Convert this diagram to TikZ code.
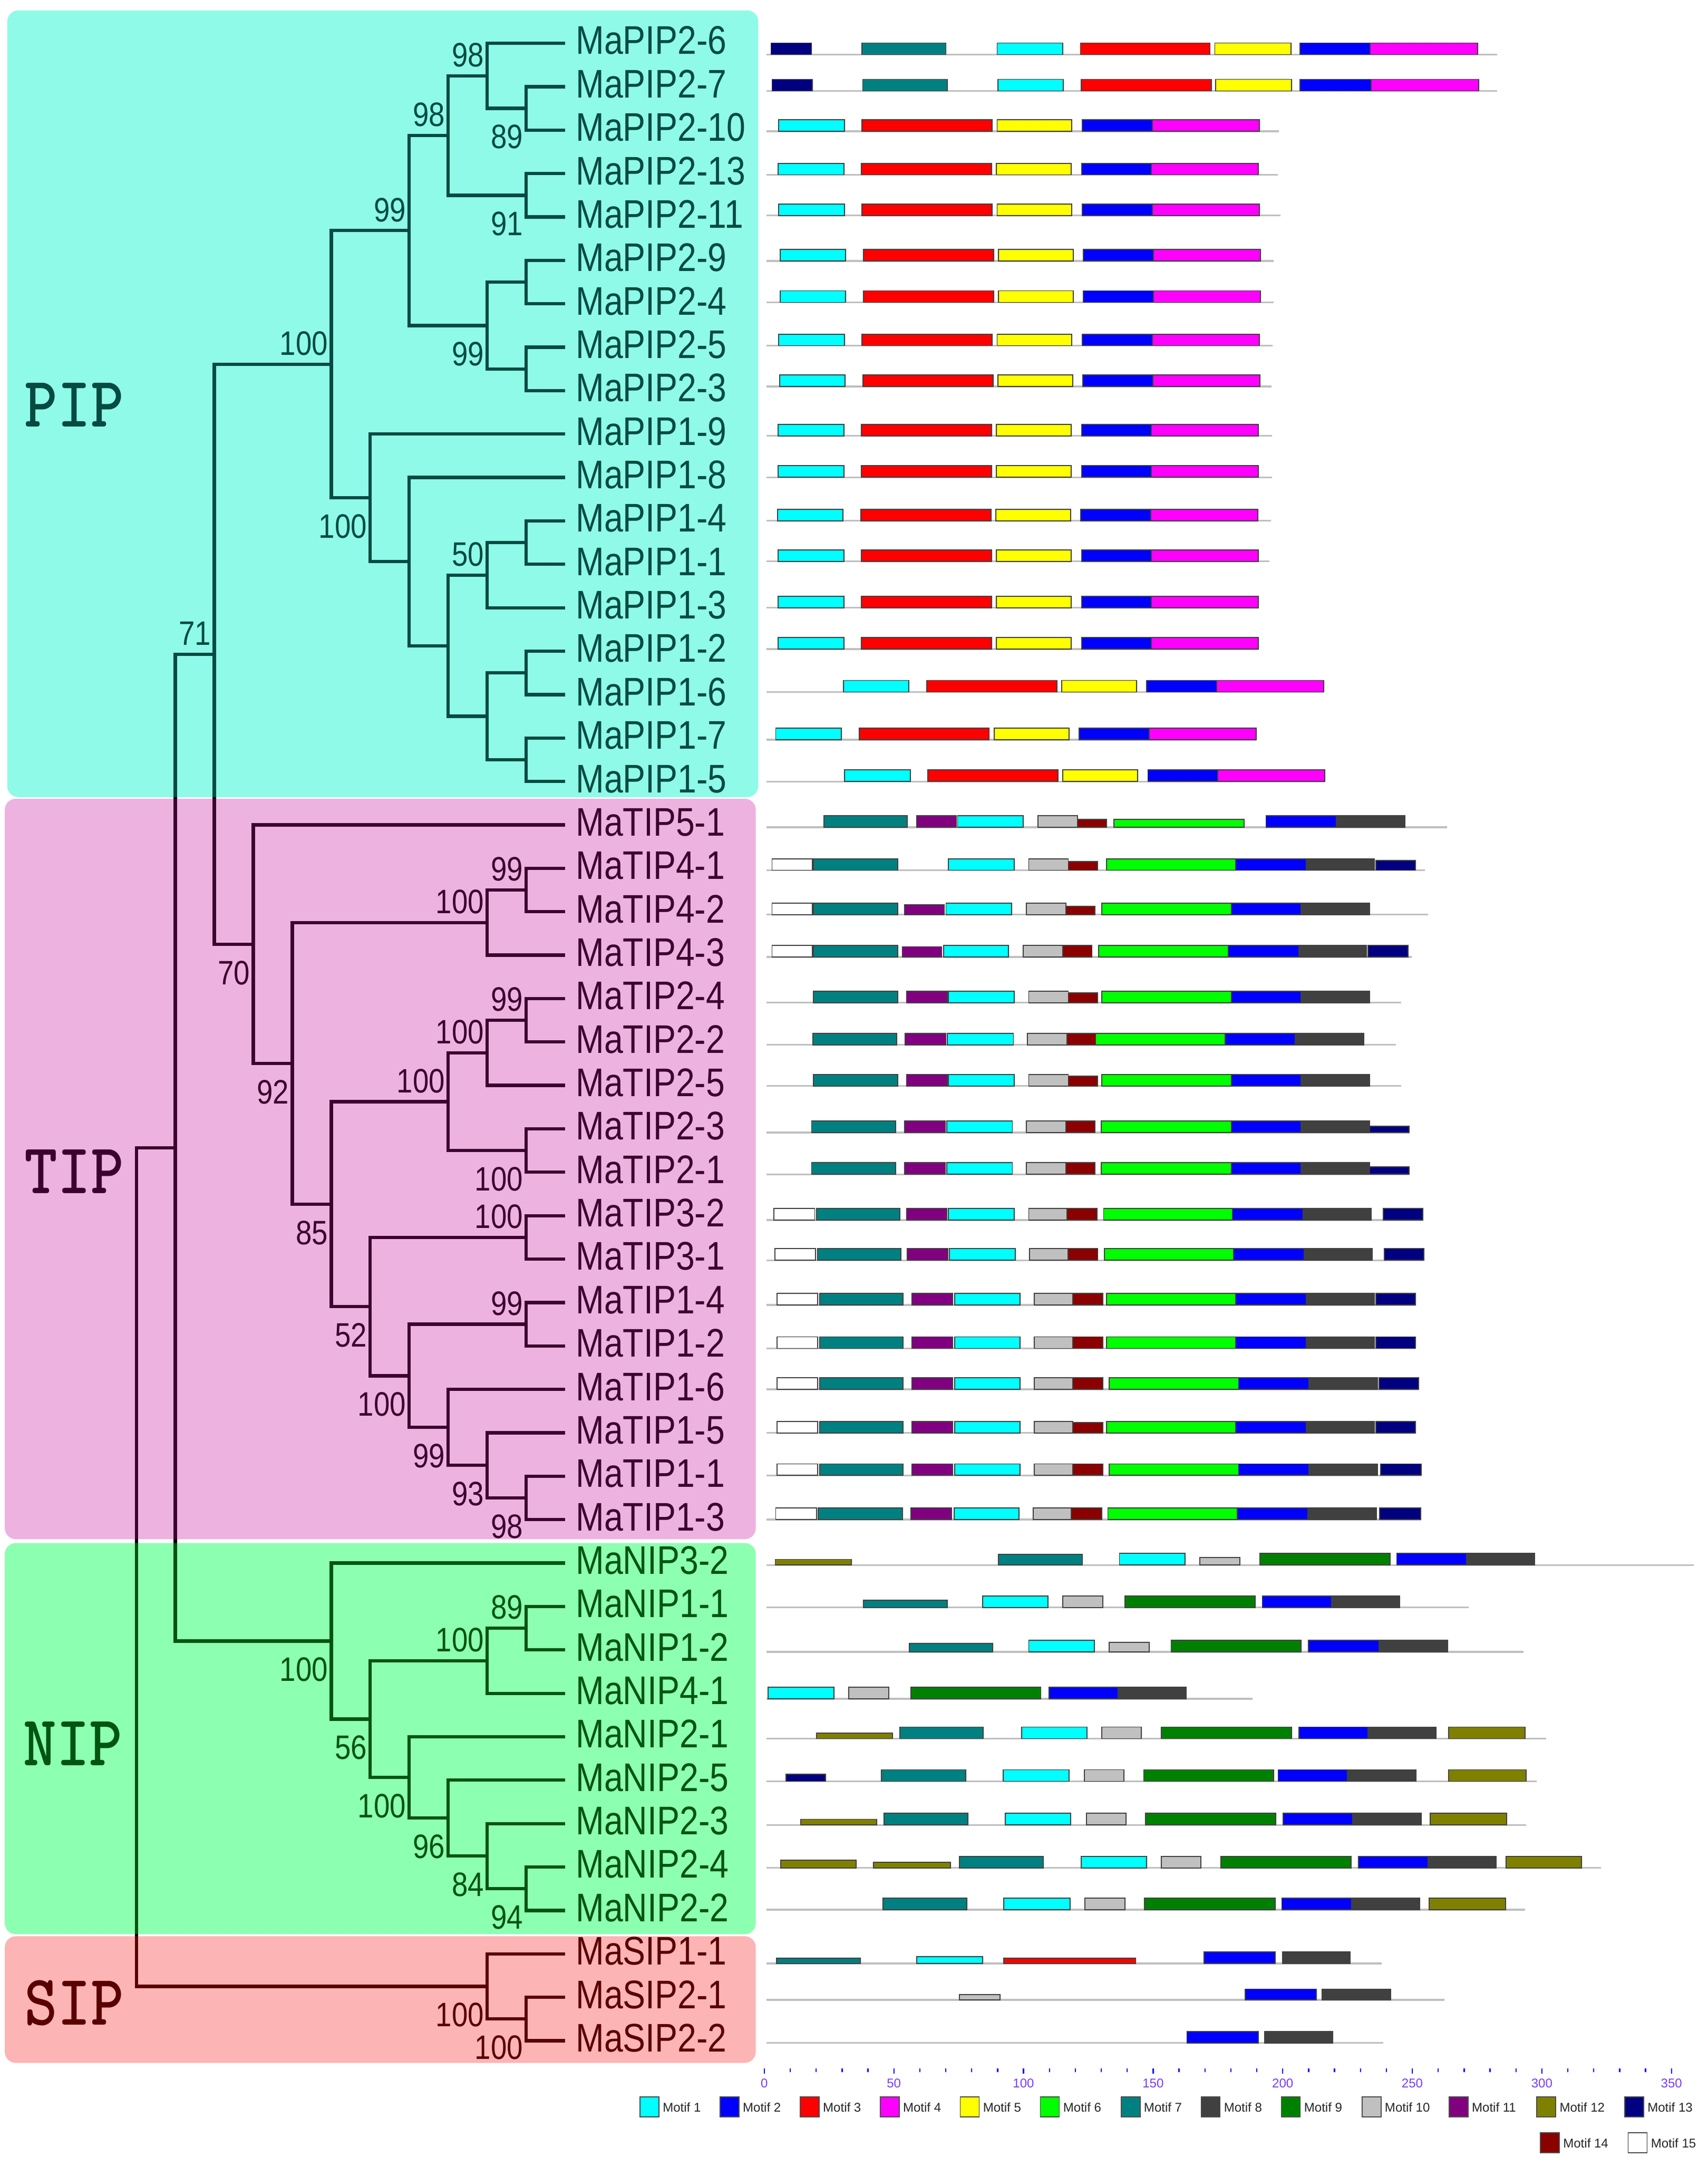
\documentclass[tikz,border=0pt]{standalone}
\usepackage{fontspec}
\setmainfont{Liberation Sans}
\newfontfamily\lsn[FakeStretch=0.85]{Liberation Sans}
\usetikzlibrary{calc}
\definecolor{pipbg}{RGB}{143,250,232}
\definecolor{tipbg}{RGB}{238,178,224}
\definecolor{nipbg}{RGB}{141,255,176}
\definecolor{sipbg}{RGB}{253,180,180}
\definecolor{pipdk}{RGB}{5,75,65}
\definecolor{tipdk}{RGB}{60,0,48}
\definecolor{nipdk}{RGB}{0,85,15}
\definecolor{sipdk}{RGB}{90,0,0}
\definecolor{mc1}{RGB}{0,255,255}
\definecolor{mc2}{RGB}{0,0,255}
\definecolor{mc3}{RGB}{255,0,0}
\definecolor{mc4}{RGB}{255,0,255}
\definecolor{mc5}{RGB}{255,255,0}
\definecolor{mc6}{RGB}{0,255,0}
\definecolor{mc7}{RGB}{0,128,128}
\definecolor{mc8}{RGB}{64,64,64}
\definecolor{mc9}{RGB}{0,128,0}
\definecolor{mc10}{RGB}{192,192,192}
\definecolor{mc11}{RGB}{128,0,128}
\definecolor{mc12}{RGB}{128,128,0}
\definecolor{mc13}{RGB}{0,0,128}
\definecolor{mc14}{RGB}{139,0,0}
\definecolor{mc15}{RGB}{255,255,255}
\definecolor{axcol}{RGB}{120,60,255}
\newcommand\leaffont{\lsn\fontsize{14.5pt}{16pt}\selectfont}
\newcommand\bsfont{\lsn\fontsize{12.3pt}{14pt}\selectfont}
\newcommand\grpfont{\ttfamily\bfseries\fontsize{26pt}{28pt}\selectfont}
\newcommand\smallfont{\fontsize{4.6pt}{5.5pt}\selectfont}
\newcommand\rb{0}
\newcommand\seqrow[2]{\renewcommand\rb{#1}\draw[bl] (556.3,#1) -- (#2,#1);}
\newcommand\mtf[4][8.4]{\filldraw[mot,fill=#2] (#3,\rb) rectangle (#4,\rb-#1);}
\newcommand\pipbox[1]{\begin{scope}[xshift={(#1)*0.5pt}]\mtf{mc1}{565.4}{613.1}\mtf{mc3}{625.9}{720.4}\mtf{mc5}{723.9}{778.2}\mtf{mc2}{785.7}{836.5}\mtf{mc4}{836.5}{914.2}\end{scope}}
\newcommand\bsA[2]{\node[bs] (bs#1) at ($(#1)+(-2,-6.6)$) {#2};}
\newcommand\bsB[2]{\node[bs] (bs#1) at ($(#1)+(-2,29.2)$) {#2};}
\newcommand\treelines{%
\draw[tln] (l1) -| (a1) |- (l2);
\draw[tln] (l0) -| (a2) |- (a1);
\draw[tln] (l3) -| (a3) |- (l4);
\draw[tln] (a2) -| (a4) |- (a3);
\draw[tln] (l5) -| (a5) |- (l6);
\draw[tln] (l7) -| (a6) |- (l8);
\draw[tln] (a5) -| (a7) |- (a6);
\draw[tln] (a4) -| (a8) |- (a7);
\draw[tln] (l11) -| (b1) |- (l12);
\draw[tln] (b1) -| (b2) |- (l13);
\draw[tln] (l14) -| (b3) |- (l15);
\draw[tln] (l16) -| (b4) |- (l17);
\draw[tln] (b3) -| (b5) |- (b4);
\draw[tln] (b2) -| (b6) |- (b5);
\draw[tln] (l10) -| (b7) |- (b6);
\draw[tln] (l9) -| (b8) |- (b7);
\draw[tln] (a8) -| (P) |- (b8);
\draw[tln] (l19) -| (t41) |- (l20);
\draw[tln] (t41) -| (T4) |- (l21);
\draw[tln] (l22) -| (t221) |- (l23);
\draw[tln] (t221) -| (t22) |- (l24);
\draw[tln] (l25) -| (t23) |- (l26);
\draw[tln] (t22) -| (T2g) |- (t23);
\draw[tln] (l27) -| (t3) |- (l28);
\draw[tln] (l29) -| (t1a) |- (l30);
\draw[tln] (l33) -| (t1b) |- (l34);
\draw[tln] (l32) -| (T8) |- (t1b);
\draw[tln] (l31) -| (T7) |- (T8);
\draw[tln] (t1a) -| (T6) |- (T7);
\draw[tln] (t3) -| (T5) |- (T6);
\draw[tln] (T2g) -| (T3) |- (T5);
\draw[tln] (T4) -| (T2) |- (T3);
\draw[tln] (l18) -| (T) |- (T2);
\draw[tln] (P) -| (C) |- (T);
\draw[tln] (l36) -| (n11) |- (l37);
\draw[tln] (n11) -| (n1) |- (l38);
\draw[tln] (l42) -| (n5) |- (l43);
\draw[tln] (l41) -| (n4) |- (n5);
\draw[tln] (l40) -| (n3) |- (n4);
\draw[tln] (l39) -| (n2) |- (n3);
\draw[tln] (n1) -| (N2) |- (n2);
\draw[tln] (l35) -| (N) |- (N2);
\draw[tln] (C) -| (R1) |- (N);
\draw[tln] (l45) -| (s2) |- (l46);
\draw[tln] (l44) -| (S) |- (s2);
\draw[tln] (R1) -| (root) |- (S);}
\newcommand\treelabels{%
\foreach \i/\t in {0/MaPIP2-6,1/MaPIP2-7,2/MaPIP2-10,3/MaPIP2-13,4/MaPIP2-11,5/MaPIP2-9,6/MaPIP2-4,7/MaPIP2-5,8/MaPIP2-3,9/MaPIP1-9,10/MaPIP1-8,11/MaPIP1-4,12/MaPIP1-1,13/MaPIP1-3,14/MaPIP1-2,15/MaPIP1-6,16/MaPIP1-7,17/MaPIP1-5,18/MaTIP5-1,19/MaTIP4-1,20/MaTIP4-2,21/MaTIP4-3,22/MaTIP2-4,23/MaTIP2-2,24/MaTIP2-5,25/MaTIP2-3,26/MaTIP2-1,27/MaTIP3-2,28/MaTIP3-1,29/MaTIP1-4,30/MaTIP1-2,31/MaTIP1-6,32/MaTIP1-5,33/MaTIP1-1,34/MaTIP1-3,35/MaNIP3-2,36/MaNIP1-1,37/MaNIP1-2,38/MaNIP4-1,39/MaNIP2-1,40/MaNIP2-5,41/MaNIP2-3,42/MaNIP2-4,43/MaNIP2-2,44/MaSIP1-1,45/MaSIP2-1,46/MaSIP2-2}
 {\node[leaf] (lab\i) at ($(l\i)+(7.4,8.0)$) {\t};}
\bsA{a2}{98}\bsA{a4}{98}\bsB{a1}{89}\bsB{a3}{91}\bsA{a8}{99}\bsB{a7}{99}\bsA{P}{100}
\bsB{b8}{100}\bsA{b2}{50}\bsA{C}{71}
\bsA{t41}{99}\bsA{T4}{100}\bsB{T}{70}\bsA{t221}{99}\bsA{t22}{100}\bsB{T2}{92}\bsA{T2g}{100}\bsB{t23}{100}
\bsB{T3}{85}\bsA{t3}{100}\bsB{T5}{52}\bsA{t1a}{99}\bsB{T6}{100}\bsB{T7}{99}\bsB{T8}{93}\bsB{t1b}{98}
\bsB{N}{100}\bsA{n11}{89}\bsA{n1}{100}\bsB{N2}{56}\bsB{n2}{100}\bsB{n3}{96}\bsB{n4}{84}\bsB{n5}{94}
\bsB{S}{100}\bsB{s2}{100}}
\begin{document}
\begin{tikzpicture}[x=0.5pt,y=-0.5pt,
 tln/.style={line width=1.2pt},
 leaf/.style={font=\leaffont,anchor=base west,inner sep=0pt},
 bs/.style={font=\bsfont,anchor=base east,inner sep=0pt},
 grp/.style={font=\grpfont,inner sep=0pt,xscale=0.88},
 mot/.style={draw=black!75,line width=0.35pt},
 bl/.style={draw=black!25,line width=0.65pt},
 axtick/.style={draw=blue,line width=0.45pt},
 axl/.style={font=\smallfont,text=axcol,anchor=north,inner sep=0pt},
 lgbox/.style={draw=black!70,line width=0.35pt},
 lgt/.style={font=\smallfont,text=black!85,anchor=west,inner sep=0pt}]
\useasboundingbox (0,0) rectangle (1240,1573);
\fill[white] (0,0) rectangle (1240,1573);
% clade backgrounds
\fill[pipbg,rounded corners=4pt] (5.3,7.6) rectangle (550.5,578.6);
\fill[tipbg,rounded corners=4pt] (3.5,579.8) rectangle (548.7,1117.3);
\fill[nipbg,rounded corners=4pt] (3.5,1120.1) rectangle (548.7,1404);
\fill[sipbg,rounded corners=4pt] (3.5,1405.5) rectangle (548.7,1497.4);
% leaf and internal coordinates
\foreach \i in {0,...,46} {\coordinate (l\i) at (410.3,{31.4+31.52*\i});}
\coordinate (a1) at (382,78.65);
\coordinate (a2) at (353.7,55.0);
\coordinate (a3) at (382,141.75);
\coordinate (a4) at (325.4,98.4);
\coordinate (a5) at (382,204.75);
\coordinate (a6) at (382,267.8);
\coordinate (a7) at (353.7,236.3);
\coordinate (a8) at (297.1,167.35);
\coordinate (b1) at (382,393.85);
\coordinate (b2) at (353.7,417.5);
\coordinate (b3) at (382,488.45);
\coordinate (b4) at (382,551.45);
\coordinate (b5) at (353.7,519.95);
\coordinate (b6) at (325.4,468.7);
\coordinate (b7) at (297.1,407.65);
\coordinate (b8) at (268.8,361.4);
\coordinate (P) at (240.5,264.4);
\coordinate (t41) at (382,646.05);
\coordinate (T4) at (353.7,669.7);
\coordinate (t221) at (382,740.6);
\coordinate (t22) at (353.7,764.25);
\coordinate (t23) at (382,835.15);
\coordinate (T2g) at (325.4,799.7);
\coordinate (t3) at (382,898.15);
\coordinate (t1a) at (382,961.25);
\coordinate (t1b) at (382,1087.3);
\coordinate (T8) at (353.7,1063.65);
\coordinate (T7) at (325.4,1036.1);
\coordinate (T6) at (297.1,998.7);
\coordinate (T5) at (268.8,948.4);
\coordinate (T3) at (240.5,874.05);
\coordinate (T2) at (212.2,771.9);
\coordinate (T) at (183.9,685.35);
\coordinate (C) at (155.6,474.9);
\coordinate (n11) at (382,1181.85);
\coordinate (n1) at (353.7,1205.5);
\coordinate (n5) at (382,1370.95);
\coordinate (n4) at (353.7,1347.3);
\coordinate (n3) at (325.4,1319.75);
\coordinate (n2) at (297.1,1290.2);
\coordinate (N2) at (268.8,1247.85);
\coordinate (N) at (240.5,1191.2);
\coordinate (R1) at (127.3,833.05);
\coordinate (s2) at (382,1465.55);
\coordinate (S) at (353.7,1441.9);
\coordinate (root) at (99,1137.5);
% tree: black base, then tinted per clade
\treelines
\begin{scope}\clip[rounded corners=4pt] (5.3,7.6) rectangle (550.5,578.6);
 \begin{scope}[color=pipdk]\treelines\treelabels\end{scope}\end{scope}
\begin{scope}\clip[rounded corners=4pt] (3.5,579.8) rectangle (548.7,1117.3);
 \begin{scope}[color=tipdk]\treelines\treelabels\end{scope}\end{scope}
\begin{scope}\clip[rounded corners=4pt] (3.5,1120.1) rectangle (548.7,1404);
 \begin{scope}[color=nipdk]\treelines\treelabels\end{scope}\end{scope}
\begin{scope}\clip[rounded corners=4pt] (3.5,1405.5) rectangle (548.7,1497.4);
 \begin{scope}[color=sipdk]\treelines\treelabels\end{scope}\end{scope}
\node[grp,text=pipdk] (gPIP) at (54,293.8) {PIP};
\node[grp,text=tipdk] (gTIP) at (54,850.3) {TIP};
\node[grp,text=nipdk] (gNIP) at (53,1265.8) {NIP};
\node[grp,text=sipdk] (gSIP) at (54,1454) {SIP};
% motifs: PIP
\seqrow{39.6}{1086.9}\mtf{mc13}{559.7}{589.2}\mtf{mc7}{625.9}{686.8}\mtf{mc1}{723.9}{771.6}\mtf{mc3}{784.4}{878.5}\mtf{mc5}{882.0}{937.2}\mtf{mc2}{943.8}{994.6}\mtf{mc4}{994.6}{1072.8}
\seqrow{66.0}{1086.9}\mtf{mc13}{560.5}{589.7}\mtf{mc7}{626.3}{687.7}\mtf{mc1}{724.4}{772.1}\mtf{mc3}{784.9}{879.4}\mtf{mc5}{882.4}{937.6}\mtf{mc2}{943.8}{995.5}\mtf{mc4}{995.5}{1073.6}
\seqrow{95.3}{928.4}\pipbox{0}
\seqrow{126.9}{927.9}\pipbox{-0.5}
\seqrow{156.4}{929.5}\pipbox{0}
\seqrow{189.4}{924.8}\pipbox{0.9}
\seqrow{219.5}{924.8}\pipbox{0.9}
\seqrow{250.9}{924}\pipbox{0}
\seqrow{280.6}{923.1}\pipbox{0.5}
\seqrow{316.4}{923.5}\pipbox{-0.5}
\seqrow{346.5}{923.5}\pipbox{-0.5}
\seqrow{378.0}{922.6}\pipbox{-1}
\seqrow{407.5}{921.7}\pipbox{-0.5}
\seqrow{441.2}{913.8}\pipbox{-0.5}
\seqrow{471.2}{913.8}\pipbox{-0.5}
\seqrow{502.3}{961}\pipbox{46.8}
\seqrow{536.9}{912}\pipbox{-2.2}
\seqrow{567.3}{961.9}\pipbox{47.7}
% TIP
\seqrow{600.5}{1050.7}\mtf{mc7}{598.1}{658.6}\mtf{mc11}{665.6}{694.3}\mtf{mc1}{695.2}{742.9}\mtf{mc10}{753.5}{782.2}\mtf[5.9]{mc14}{782.2}{803.4}\mtf[5.9]{mc6}{808.7}{903.2}\mtf{mc2}{919.1}{970.3}\mtf{mc8}{970.3}{1019.8}
\seqrow{631.7}{1034.4}\mtf{mc15}{560.5}{589.7}\mtf{mc7}{590.6}{651.9}\mtf{mc1}{688.6}{736.3}\mtf{mc10}{746.9}{775.6}\mtf[6.4]{mc14}{775.6}{796.8}\mtf{mc6}{803.4}{897.0}\mtf{mc2}{897.0}{948.2}\mtf{mc8}{948.2}{997.7}\mtf[7.2]{mc13}{999.0}{1027.7}
\seqrow{663.9}{1036.6}\mtf{mc15}{560.5}{589.7}\mtf{mc7}{590.6}{651.9}\mtf[7.0]{mc11}{656.8}{685.5}\mtf{mc1}{686.8}{734.5}\mtf{mc10}{745.1}{773.8}\mtf[6.1]{mc14}{773.8}{795.0}\mtf{mc6}{799.9}{894.0}\mtf{mc2}{894.0}{944.7}\mtf{mc8}{944.7}{994.2}
\seqrow{694.6}{1025.1}\mtf{mc15}{560.5}{589.7}\mtf{mc7}{590.6}{651.9}\mtf[7.4]{mc11}{655.0}{683.7}\mtf{mc1}{685.1}{732.3}\mtf{mc10}{742.9}{771.6}\mtf{mc14}{771.6}{792.8}\mtf{mc6}{797.7}{891.7}\mtf{mc2}{891.7}{942.9}\mtf{mc8}{942.9}{992.0}\mtf{mc13}{993.3}{1022.4}
\seqrow{727.8}{1017.1}\mtf{mc7}{590.6}{651.9}\mtf{mc11}{658.1}{687.7}\mtf{mc1}{688.6}{736.3}\mtf{mc10}{746.9}{775.6}\mtf[7.2]{mc14}{775.6}{796.8}\mtf{mc6}{799.9}{894.0}\mtf{mc2}{894.0}{944.7}\mtf{mc8}{944.7}{994.2}
\seqrow{758.4}{1013.6}\mtf{mc7}{590.1}{651.1}\mtf{mc11}{657.2}{686.8}\mtf{mc1}{687.7}{735.8}\mtf{mc10}{746.0}{774.7}\mtf{mc14}{774.7}{795.5}\mtf{mc6}{795.5}{889.5}\mtf{mc2}{889.5}{940.3}\mtf{mc8}{940.3}{990.2}
\seqrow{788.3}{1017.1}\mtf{mc7}{590.6}{651.9}\mtf{mc11}{658.1}{687.7}\mtf{mc1}{688.6}{736.3}\mtf{mc10}{746.9}{775.6}\mtf[7.2]{mc14}{775.6}{796.8}\mtf{mc6}{799.9}{894.0}\mtf{mc2}{894.0}{944.7}\mtf{mc8}{944.7}{994.2}
\seqrow{822.1}{1022.9}\mtf{mc7}{589.2}{650.2}\mtf{mc11}{656.8}{686.4}\mtf{mc1}{687.3}{735.0}\mtf{mc10}{745.1}{773.8}\mtf{mc14}{773.8}{795.0}\mtf{mc6}{799.4}{894.0}\mtf{mc2}{894.0}{944.7}\mtf{mc8}{944.7}{994.2}\mtf[4.5]{mc13}{994.2}{1022.9}
\seqrow{852.4}{1022.9}\mtf{mc7}{589.2}{650.2}\mtf{mc11}{656.8}{686.4}\mtf{mc1}{687.3}{735.0}\mtf{mc10}{745.1}{773.8}\mtf{mc14}{773.8}{795.0}\mtf{mc6}{799.4}{894.0}\mtf{mc2}{894.0}{944.7}\mtf{mc8}{944.7}{994.2}\mtf[5.5]{mc13}{994.2}{1022.9}
\seqrow{885.6}{1033.0}\mtf{mc15}{561.9}{591.5}\mtf{mc7}{592.8}{653.3}\mtf{mc11}{658.1}{687.3}\mtf{mc1}{688.6}{736.3}\mtf{mc10}{746.9}{774.7}\mtf{mc14}{774.7}{796.3}\mtf{mc6}{801.2}{894.8}\mtf{mc2}{894.8}{946.0}\mtf{mc8}{946.0}{995.5}\mtf{mc13}{1004.3}{1033.0}
\seqrow{914.8}{1033.7}\mtf{mc15}{562.6}{592.2}\mtf{mc7}{593.5}{654.0}\mtf{mc11}{658.8}{688.0}\mtf{mc1}{689.3}{737.0}\mtf{mc10}{747.6}{775.4}\mtf{mc14}{775.4}{797.0}\mtf{mc6}{801.9}{895.5}\mtf{mc2}{895.5}{946.7}\mtf{mc8}{946.7}{996.2}\mtf{mc13}{1005.0}{1033.7}
\seqrow{947.3}{1027.7}\mtf{mc15}{564.1}{593.7}\mtf{mc7}{595.0}{655.5}\mtf{mc11}{662.1}{691.7}\mtf{mc1}{693.0}{740.7}\mtf{mc10}{750.9}{778.7}\mtf{mc14}{778.7}{800.8}\mtf{mc6}{803.4}{897.0}\mtf{mc2}{897.0}{948.2}\mtf{mc8}{948.2}{997.7}\mtf{mc13}{999.0}{1027.7}
\seqrow{978.8}{1027.7}\mtf{mc15}{564.1}{593.7}\mtf{mc7}{595.0}{655.5}\mtf{mc11}{662.1}{691.7}\mtf{mc1}{693.0}{740.7}\mtf{mc10}{750.9}{778.7}\mtf{mc14}{778.7}{800.8}\mtf{mc6}{803.4}{897.0}\mtf{mc2}{897.0}{948.2}\mtf{mc8}{948.2}{997.7}\mtf{mc13}{999.0}{1027.7}
\seqrow{1008.5}{1029.9}\mtf{mc15}{564.1}{593.7}\mtf{mc7}{595.0}{655.5}\mtf{mc11}{662.1}{691.7}\mtf{mc1}{693.0}{740.7}\mtf{mc10}{750.9}{778.7}\mtf{mc14}{778.7}{800.8}\mtf{mc6}{805.2}{899.2}\mtf{mc2}{899.2}{950.4}\mtf{mc8}{950.4}{999.9}\mtf{mc13}{1001.2}{1029.9}
\seqrow{1040.1}{1027.7}\mtf{mc15}{564.1}{593.7}\mtf{mc7}{595.0}{655.5}\mtf{mc11}{662.1}{691.7}\mtf{mc1}{693.0}{740.7}\mtf{mc10}{750.9}{778.7}\mtf[7.6]{mc14}{778.7}{800.8}\mtf{mc6}{803.4}{897.0}\mtf{mc2}{897.0}{948.2}\mtf{mc8}{948.2}{997.7}\mtf{mc13}{999.0}{1027.7}
\seqrow{1071.0}{1031.7}\mtf{mc15}{564.1}{593.7}\mtf{mc7}{595.0}{655.5}\mtf{mc11}{662.1}{691.7}\mtf{mc1}{693.0}{740.7}\mtf{mc10}{750.9}{778.7}\mtf{mc14}{778.7}{800.8}\mtf{mc6}{805.2}{899.2}\mtf{mc2}{899.2}{950.4}\mtf{mc8}{950.4}{999.9}\mtf{mc13}{1002.5}{1031.7}
\seqrow{1103.0}{1031.3}\mtf{mc15}{563.2}{592.8}\mtf{mc7}{594.1}{655.1}\mtf{mc11}{661.2}{690.8}\mtf{mc1}{692.6}{739.8}\mtf{mc10}{750.0}{777.8}\mtf{mc14}{777.8}{799.9}\mtf{mc6}{804.3}{898.4}\mtf{mc2}{898.4}{949.6}\mtf{mc8}{949.6}{999.5}\mtf{mc13}{1001.7}{1031.3}
% NIP
\seqrow{1136.0}{1229.5}\mtf[4.1]{mc12}{562.8}{618.0}\mtf[7.8]{mc7}{724.8}{785.7}\mtf{mc1}{812.7}{860.4}\mtf[5.6]{mc10}{871.0}{900.1}\mtf{mc9}{914.7}{1009.2}\mtf{mc2}{1014.0}{1064.8}\mtf{mc8}{1064.8}{1114.3}
\seqrow{1166.8}{1066.1}\mtf[5.1]{mc7}{626.8}{687.7}\mtf{mc1}{713.3}{761.0}\mtf{mc10}{771.6}{800.8}\mtf{mc9}{816.6}{911.1}\mtf{mc2}{916.4}{966.8}\mtf{mc8}{966.8}{1016.2}
\seqrow{1199.0}{1105.9}\mtf[6.1]{mc7}{660.3}{720.8}\mtf{mc1}{746.9}{794.6}\mtf[6.8]{mc10}{805.2}{834.3}\mtf{mc9}{850.2}{944.7}\mtf{mc2}{950.0}{1001.2}\mtf{mc8}{1001.2}{1051.1}
\seqrow{1233.2}{909.4}\mtf{mc1}{557.5}{605.6}\mtf{mc10}{616.2}{645.3}\mtf{mc9}{661.2}{755.7}\mtf{mc2}{761.5}{811.8}\mtf{mc8}{811.8}{861.2}
\seqrow{1262.0}{1122.6}\mtf[4.1]{mc12}{592.8}{648.0}\mtf{mc7}{653.3}{713.8}\mtf{mc1}{741.6}{789.3}\mtf{mc10}{799.9}{828.6}\mtf{mc9}{843.1}{937.6}\mtf{mc2}{942.9}{993.3}\mtf{mc8}{993.3}{1042.7}\mtf{mc12}{1051.6}{1107.2}
\seqrow{1293.0}{1115.6}\mtf[5.1]{mc13}{570.7}{599.4}\mtf{mc7}{640.0}{701.0}\mtf{mc1}{728.3}{776.0}\mtf{mc10}{787.1}{815.8}\mtf{mc9}{830.3}{924.8}\mtf{mc2}{927.9}{978.3}\mtf{mc8}{978.3}{1028.2}\mtf{mc12}{1051.6}{1108.1}
\seqrow{1324.7}{1108.1}\mtf[4.1]{mc12}{581.3}{636.5}\mtf{mc7}{641.8}{702.7}\mtf{mc1}{729.7}{777.4}\mtf{mc10}{788.8}{817.5}\mtf{mc9}{831.7}{926.2}\mtf{mc2}{931.5}{982.2}\mtf{mc8}{982.2}{1031.7}\mtf{mc12}{1038.3}{1093.9}
\seqrow{1355.9}{1162.4}\mtf[5.6]{mc12}{566.7}{621.5}\mtf[4.1]{mc12}{634.3}{689.9}\mtf{mc7}{696.5}{757.5}\mtf{mc1}{784.9}{832.5}\mtf{mc10}{843.1}{871.8}\mtf{mc9}{886.4}{980.9}\mtf{mc2}{986.2}{1036.6}\mtf{mc8}{1036.6}{1086.0}\mtf{mc12}{1093.5}{1148.3}
\seqrow{1386.2}{1107.2}\mtf{mc7}{640.9}{701.8}\mtf{mc1}{728.8}{776.9}\mtf{mc10}{787.5}{816.6}\mtf{mc9}{830.8}{925.7}\mtf{mc2}{930.6}{981.4}\mtf{mc8}{981.4}{1030.8}\mtf{mc12}{1037.4}{1093.1}
% SIP
\seqrow{1425.3}{1003.0}\mtf[3.9]{mc7}{563.6}{624.6}\mtf[4.9]{mc1}{665.6}{713.3}\mtf[3.9]{mc3}{728.8}{824.6}\mtf{mc2}{874.1}{925.7}\mtf{mc8}{931.0}{980.0}
\seqrow{1451.6}{1048.5}\mtf[3.9]{mc10}{696.5}{726.1}\mtf[7.8]{mc2}{904.1}{955.7}\mtf[7.8]{mc8}{959.7}{1009.6}
\seqrow{1482.9}{1004.3}\mtf{mc2}{861.7}{913.4}\mtf{mc8}{918.2}{967.7}
% axis
\foreach \k in {0,...,35} {\draw[axtick] ({554.9+18.817*\k},1501.6) -- ({554.9+18.817*\k},1503.9);}
\foreach \v in {0,50,...,350} {\draw[axtick] ({554.9+1.8817*\v},1501.6) -- ({554.9+1.8817*\v},1505.4);
 \node[axl] (ax\v) at ({554.9+1.8817*\v},1508.4) {\v};}
% legend
\foreach \x/\c/\n in {464.6/mc1/1,522.7/mc2/2,580.9/mc3/3,639.0/mc4/4,697.1/mc5/5,755.3/mc6/6,813.9/mc7/7,872.0/mc8/8,930.2/mc9/9,988.8/mc10/10,1052.0/mc11/11,1115.7/mc12/12,1179.5/mc13/13}
 {\filldraw[lgbox,fill=\c] (\x,1522) rectangle ++(13.8,14.7);
  \node[lgt] (lg\n) at (\x+16.2,1529.6) {Motif \n};}
\foreach \x/\c/\n in {1118.3/mc14/14,1182.0/mc15/15}
 {\filldraw[lgbox,fill=\c] (\x,1548.2) rectangle ++(13.8,14.6);
  \node[lgt] (lg\n) at (\x+16.2,1555.6) {Motif \n};}
\end{tikzpicture}
\end{document}
